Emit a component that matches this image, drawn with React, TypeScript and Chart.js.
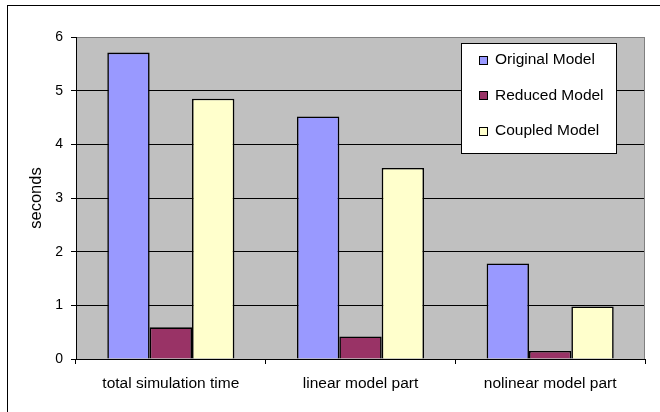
import React, { useEffect, useRef } from "react";
import { Chart, registerables } from "chart.js";

Chart.register(...registerables);

const categories = ["total simulation time", "linear model part", "nolinear model part"];
const seriesNames = ["Original Model", "Reduced Model", "Coupled Model"];
const originalModel = [5.71, 4.52, 1.78];
const reducedModel = [0.59, 0.42, 0.15];
const coupledModel = [4.85, 3.56, 0.98];
const seriesColors = ["#9999FF", "#993366", "#FFFFCC"];
const yTicks = [0, 1, 2, 3, 4, 5, 6];
const yTitle = "seconds";

const FONT = "'Liberation Sans', Arial, sans-serif";

const framePlugin = {
  id: "frame",
  beforeDraw(chart: any) {
    const { ctx, chartArea } = chart;
    ctx.save();
    ctx.fillStyle = "#ffffff";
    ctx.fillRect(0, 0, chart.width, chart.height);
    ctx.fillStyle = "#C0C0C0";
    ctx.fillRect(chartArea.left, chartArea.top, chartArea.right - chartArea.left, chartArea.bottom - chartArea.top);
    ctx.strokeStyle = "#000000";
    ctx.lineWidth = 1;
    ctx.strokeRect(7.5, 5.5, chart.width + 20, chart.height + 20);
    ctx.restore();
  },
  afterDraw(chart: any) {
    const { ctx, chartArea } = chart;
    ctx.save();
    // right plot border
    ctx.strokeStyle = "#808080";
    ctx.lineWidth = 1;
    const rx = Math.round(chartArea.right) - 0.5;
    ctx.beginPath();
    ctx.moveTo(rx, Math.round(chartArea.top) + 0.5);
    ctx.lineTo(rx, Math.round(chartArea.bottom));
    ctx.stroke();

    // legend box
    const lx = 461.5, ly = 43.5, lw = 155, lh = 110;
    ctx.fillStyle = "#ffffff";
    ctx.fillRect(lx, ly, lw, lh);
    ctx.strokeStyle = "#000000";
    ctx.strokeRect(lx, ly, lw, lh);
    ctx.font = `15.5px ${FONT}`;
    ctx.textBaseline = "middle";
    ctx.textAlign = "left";
    const rowY = [60, 95.5, 131];
    chart.data.datasets.forEach((ds: any, i: number) => {
      const cy = rowY[i];
      ctx.fillStyle = ds.backgroundColor;
      ctx.fillRect(479.5, Math.round(cy - 4.5) + 0.5, 8, 8);
      ctx.strokeStyle = "#000000";
      ctx.strokeRect(479.5, Math.round(cy - 4.5) + 0.5, 8, 8);
      ctx.fillStyle = "#000000";
      ctx.fillText(ds.label, 495, cy);
    });
    ctx.restore();
  },
};

export default function App() {
  const ref = useRef<HTMLCanvasElement | null>(null);
  useEffect(() => {
    if (!ref.current) return;
    const chart = new Chart(ref.current, {
      type: "bar",
      data: {
        labels: categories,
        datasets: [originalModel, reducedModel, coupledModel].map((d, i) => ({
          label: seriesNames[i],
          data: d,
          backgroundColor: seriesColors[i],
          borderColor: "#000000",
          borderWidth: 1.6,
          categoryPercentage: 0.67,
          barPercentage: 1.0,
        })),
      },
      options: {
        responsive: false,
        animation: false,
        layout: { padding: { left: 0, top: 37, right: 15, bottom: 0 } },
        plugins: {
          legend: { display: false },
          tooltip: { enabled: false },
        },
        scales: {
          x: {
            afterFit(scale: any) {
              scale.height = 53;
            },
            grid: {
              display: true,
              drawOnChartArea: false,
              drawTicks: true,
              tickLength: 5,
              tickColor: "#000000",
              offset: true,
            },
            border: { display: true, color: "#000000", width: 1 },
            ticks: {
              color: "#000000",
              font: { family: FONT, size: 15.5 },
              padding: 10,
              maxRotation: 0,
              autoSkip: false,
            },
          },
          y: {
            min: yTicks[0],
            max: yTicks[yTicks.length - 1],
            afterFit(scale: any) {
              scale.width = 76;
            },
            afterBuildTicks(scale: any) {
              scale.ticks = yTicks.map((v) => ({ value: v }));
            },
            grid: {
              color: (c: any) => (c.tick && c.tick.value === 6 ? "#808080" : "#000000"),
              tickColor: "#000000",
              tickLength: 5,
              lineWidth: 1,
            },
            border: { display: true, color: "#000000", width: 1 },
            ticks: {
              color: "#000000",
              font: { family: FONT, size: 14 },
              padding: 8,
            },
            title: {
              display: true,
              text: yTitle,
              color: "#000000",
              font: { family: FONT, size: 16.5 },
              padding: { top: 27, bottom: 0 },
            },
          },
        },
      },
      plugins: [framePlugin],
    });
    return () => chart.destroy();
  }, []);
  return (
    <div style={{ position: "fixed", left: 0, top: 0, width: 660, height: 412, background: "#fff" }}>
      <canvas ref={ref} width={660} height={412} style={{ display: "block" }} />
    </div>
  );
}
